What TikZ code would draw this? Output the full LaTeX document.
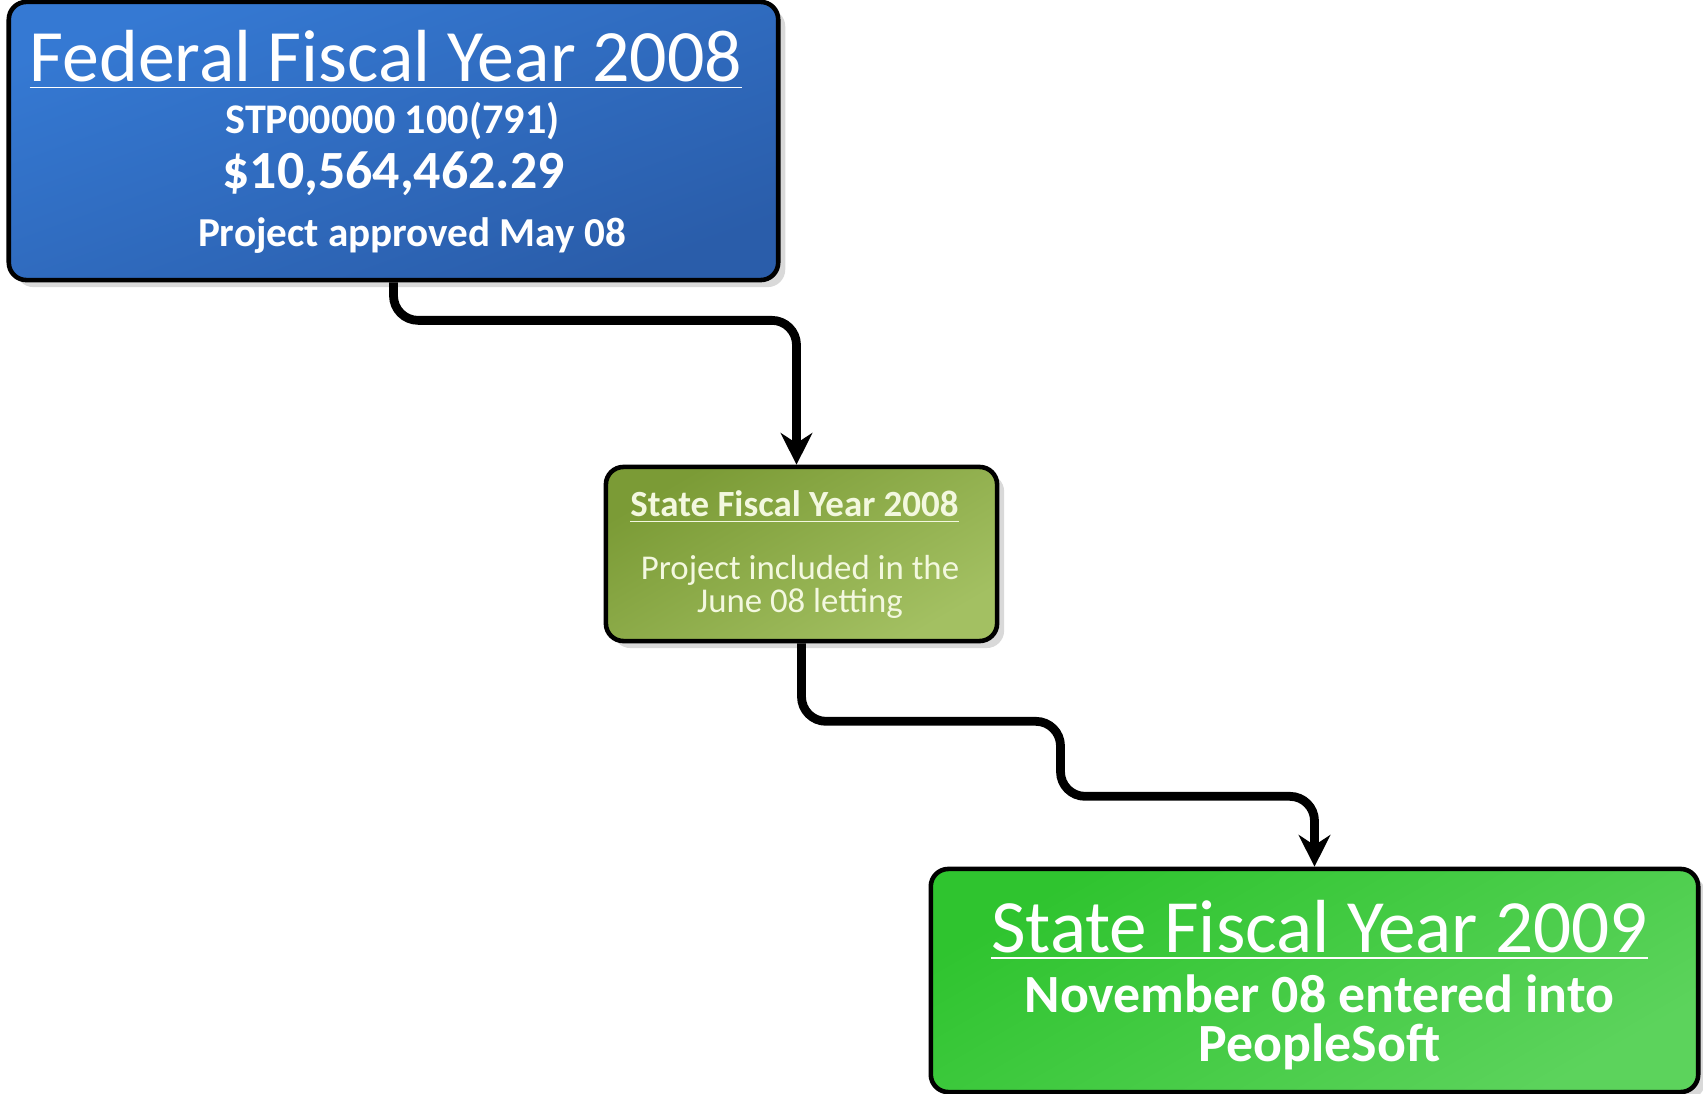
\documentclass[tikz,border=0pt]{standalone}
\usepackage{fontspec}
\setmainfont{Carlito}
\usepackage{tikz}
\usetikzlibrary{shadows,arrows.meta}

\definecolor{fedtop}{HTML}{3579D3}
\definecolor{fedbot}{HTML}{2A5DAA}
\definecolor{olivetop}{HTML}{7B9B36}
\definecolor{olivebot}{HTML}{A3C062}
\definecolor{greentop}{HTML}{2FC42F}
\definecolor{greenbot}{HTML}{5CD35C}
\definecolor{paletext}{HTML}{F3F8DF}

\begin{document}
\begin{tikzpicture}[x=0.01cm, y=-0.01cm]
    \tikzstyle{box} = [rectangle, draw=black, line width=1.3pt, rounded corners=5pt, inner sep=0pt,
        drop shadow={opacity=0.3, shadow xshift=2pt, shadow yshift=-2pt}]
    \tikzstyle{fedbox} = [box, top color=fedtop, bottom color=fedbot, shading angle=20]
    \tikzstyle{sfybox} = [box, top color=olivetop, bottom color=olivebot, shading angle=30]
    \tikzstyle{nextbox} = [box, top color=greentop, bottom color=greenbot, shading angle=30]
    \tikzstyle{txt} = [text=white, inner sep=0pt]
    \tikzstyle{flow} = [line width=2.5pt, rounded corners=7pt, -{Stealth[length=9pt, width=9pt]}]

    \useasboundingbox (0,0) rectangle (1703,1094);

    % Boxes
    \node[fedbox, minimum width=7.69cm, minimum height=2.78cm] (fed) at (393.5,141) {};
    \node[sfybox, minimum width=3.91cm, minimum height=1.74cm] (sfy) at (801.5,554) {};
    \node[nextbox, minimum width=7.67cm, minimum height=2.23cm] (next) at (1314.5,980.5) {};

    % Federal year text
    \node[txt, font=\fontsize{21}{23}\selectfont] (fedtitle) at (386,60) {\underline{Federal Fiscal Year 2008}};
    \node[txt, font=\fontsize{12}{14}\selectfont\bfseries] (fedproj) at (392.5,121) {STP00000 100(791)};
    \node[txt, font=\fontsize{15.3}{17}\selectfont\bfseries] (fedcost) at (393.5,174) {\$10,564,462.29};
    \node[txt, font=\fontsize{11.7}{13}\selectfont\bfseries] (fedok) at (412,236) {Project approved May 08};

    % State year 2008 text
    \node[txt, text=paletext, font=\fontsize{10.5}{12}\selectfont\bfseries] (sfytitle) at (794.5,507) {\underline{State Fiscal Year 2008}};
    \node[txt, text=paletext, font=\fontsize{9.9}{9.2}\selectfont, align=center] (sfynote) at (800,587)
        {Project included in the\\June 08 letting};

    % State year 2009 text
    \node[txt, font=\fontsize{21.4}{23}\selectfont] (nexttitle) at (1319.5,930) {\underline{State Fiscal Year 2009}};
    \node[txt, font=\fontsize{15.3}{14}\selectfont\bfseries, align=center] (nextnote) at (1319.5,1022)
        {November 08 entered into\\PeopleSoft};

    % Connectors
    \draw[flow] (fed.south) -- ++(0,38) -| ([xshift=-0.05cm]sfy.north);
    \draw[flow] (sfy.south) -- ++(0,78) -| ++(259,75) -| (next.north);

\end{tikzpicture}
\end{document}
